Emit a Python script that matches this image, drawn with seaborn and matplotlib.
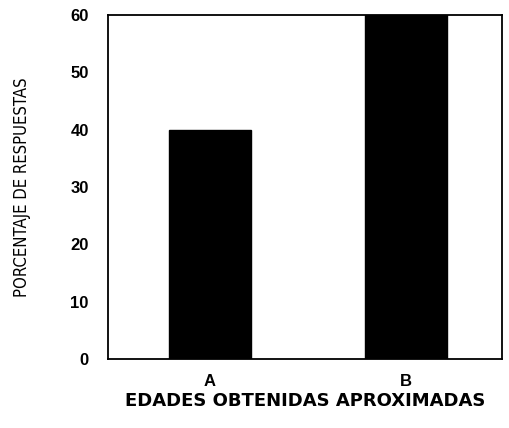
import matplotlib
matplotlib.use('Agg')
import matplotlib.pyplot as plt
import seaborn as sns
import pandas as pd

categorias = ['A', 'B']
porcentajes = [40, 60]
ticks_y = [0, 10, 20, 30, 40, 50, 60]

df = pd.DataFrame({'edad': categorias, 'pct': porcentajes})

sns.set_style('white')
plt.rcParams['font.family'] = ['Liberation Sans', 'DejaVu Sans']
plt.rcParams['text.color'] = 'black'
plt.rcParams['axes.labelcolor'] = 'black'
plt.rcParams['xtick.color'] = 'black'
plt.rcParams['ytick.color'] = 'black'

fig = plt.figure(figsize=(5.1, 4.28), dpi=100)
ax = fig.add_axes([0.212, 0.161, 0.772, 0.804])

sns.barplot(x='edad', y='pct', data=df, color='black', width=0.42, ax=ax,
            saturation=1, edgecolor='black')

ax.set_xlim(-0.52, 1.49)
ax.set_ylim(0, 60)
ax.set_yticks(ticks_y)
ax.tick_params(axis='y', length=0, pad=14, labelcolor='black')
ax.tick_params(axis='x', length=0, pad=11, labelcolor='black')
for lbl in ax.get_yticklabels() + ax.get_xticklabels():
    lbl.set_fontweight('bold')
    lbl.set_fontsize(12)

for s in ax.spines.values():
    s.set_color('black')
    s.set_linewidth(1.3)

ax.set_ylabel('PORCENTAJE DE RESPUESTAS', fontsize=12, color='black',
              family='DejaVu Sans', fontstretch='condensed', labelpad=28)
ax.set_xlabel('EDADES OBTENIDAS APROXIMADAS', fontsize=13, fontweight='bold',
              color='black', family=['DejaVu Sans'], labelpad=2)

fig.savefig('out.png', dpi=100)
